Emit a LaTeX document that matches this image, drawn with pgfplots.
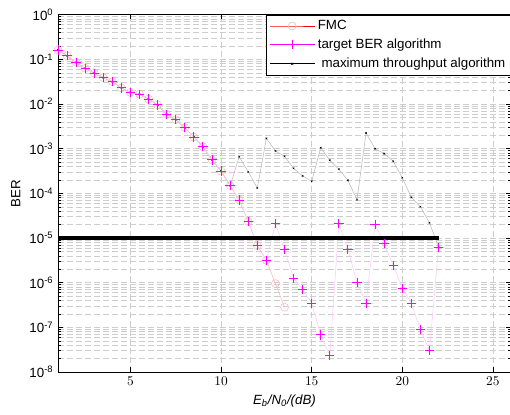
\documentclass[border=0pt]{standalone}
\usepackage{fontspec}
\setmainfont{Liberation Sans}
\usepackage{pgfplots}
\pgfplotsset{compat=1.18}

\definecolor{fmcpale}{RGB}{250,185,185}
\definecolor{tgtpale}{RGB}{250,200,250}
\definecolor{thrpale}{RGB}{185,185,185}
\definecolor{gridgray}{RGB}{205,205,205}
\definecolor{mag}{RGB}{255,0,255}

\begin{document}
\begin{tikzpicture}
\useasboundingbox (-43.5pt,-31.5pt) rectangle (339pt,279pt);
\begin{axis}[
  at={(0pt,0pt)}, anchor=south west,
  scale only axis, width=339.75pt, height=268pt,
  xmin=1, xmax=26, ymin=1e-8, ymax=1, ymode=log,
  xtick={5,10,15,20,25},
  ytick={1e-8,1e-7,1e-6,1e-5,1e-4,1e-3,1e-2,1e-1,1},
  yticklabels={10\textsuperscript{-8},10\textsuperscript{-7},10\textsuperscript{-6},10\textsuperscript{-5},10\textsuperscript{-4},10\textsuperscript{-3},10\textsuperscript{-2},10\textsuperscript{-1},10\textsuperscript{0}},
  minor ytick={2e-8,3e-8,4e-8,5e-8,6e-8,7e-8,8e-8,9e-8,
               2e-7,3e-7,4e-7,5e-7,6e-7,7e-7,8e-7,9e-7,
               2e-6,3e-6,4e-6,5e-6,6e-6,7e-6,8e-6,9e-6,
               2e-5,3e-5,4e-5,5e-5,6e-5,7e-5,8e-5,9e-5,
               2e-4,3e-4,4e-4,5e-4,6e-4,7e-4,8e-4,9e-4,
               2e-3,3e-3,4e-3,5e-3,6e-3,7e-3,8e-3,9e-3,
               2e-2,3e-2,4e-2,5e-2,6e-2,7e-2,8e-2,9e-2,
               2e-1,3e-1,4e-1,5e-1,6e-1,7e-1,8e-1,9e-1},
  xmajorgrids, ymajorgrids, yminorgrids,
  major grid style={gridgray, dash pattern=on 4.5pt off 2.25pt},
  minor grid style={gridgray, dash pattern=on 4.5pt off 2.25pt},
  tick align=inside,
  major tick length=3.5pt, minor tick length=2pt,
  every tick/.style={black, line width=0.4pt},
  axis line style={line width=0.5pt},
  tick label style={font=\fontsize{10}{12}\selectfont},
  label style={font=\fontsize{10}{12}\selectfont},
  xlabel={\textit{E\textsubscript{b}/N\textsubscript{0}/(dB)}},
  ylabel={BER},
  legend style={at={(rel axis cs:1,1)}, anchor=north east, draw=black, fill=white,
    font=\fontsize{10}{12}\selectfont, cells={anchor=west}, row sep=1.5pt, inner sep=2pt,
    line width=0.5pt},
  legend image code/.code={
    \draw[mark repeat=2,mark phase=2,#1] plot coordinates {(0pt,0pt) (17pt,0pt) (34pt,0pt)};
  },
]
\addlegendimage{red, line width=0.5pt, mark=o, mark size=3pt, mark options={draw=fmcpale}}
\addlegendimage{mag, line width=0.5pt, mark=+, mark size=3.5pt}
\addlegendimage{black, line width=0.5pt, mark=x, mark size=1pt}

% FMC
\addplot[fmcpale, line width=0.4pt, mark=o, mark size=3pt, mark options={draw=fmcpale}, forget plot] coordinates {
(1,1.62e-1) (1.5,1.20e-1) (2,8.51e-2) (2.5,6.31e-2) (3,4.90e-2) (3.5,3.89e-2)
(4,3.16e-2) (4.5,2.29e-2) (5,1.82e-2) (5.5,1.66e-2) (6,1.29e-2) (6.5,9.55e-3)
(7,5.89e-3) (7.5,4.47e-3) (8,2.95e-3) (8.5,1.82e-3) (9,1.10e-3) (9.5,5.62e-4)
(10,3.16e-4) (10.5,1.48e-4) (11,7.08e-5) (11.5,2.34e-5) (12,6.76e-6) (12.5,3.16e-6)
(13,9.55e-7) (13.5,2.82e-7)
};
% maximum throughput algorithm (line only, marks drawn later)
\addplot[thrpale, line width=0.4pt, mark=x, mark size=0.8pt, mark options={draw=black, line width=0.35pt}, forget plot] coordinates {
(1,1.62e-1) (1.5,1.20e-1) (2,8.51e-2) (2.5,6.31e-2) (3,4.90e-2) (3.5,3.89e-2)
(4,3.16e-2) (4.5,2.29e-2) (5,1.82e-2) (5.5,1.66e-2) (6,1.29e-2) (6.5,9.55e-3)
(7,5.89e-3) (7.5,4.47e-3) (8,2.95e-3) (8.5,1.82e-3) (9,1.10e-3) (9.5,5.62e-4)
(10,3.16e-4) (10.5,1.48e-4) (11,6.61e-4) (11.5,3.02e-4) (12,1.32e-4) (12.5,1.70e-3)
(13,8.91e-4) (13.5,6.76e-4) (14,3.63e-4) (14.5,2.45e-4) (15,1.86e-4) (15.5,1.05e-3)
(16,5.50e-4) (16.5,3.47e-4) (17,1.95e-4) (17.5,7.24e-5) (18,2.24e-3) (18.5,1.00e-3)
(19,7.76e-4) (19.5,5.25e-4) (20,2.24e-4) (20.5,8.13e-5) (21,5.01e-5) (21.5,2.19e-5)
(22,6.31e-6)
};
% target BER algorithm
\addplot[tgtpale, line width=0.4pt, mark=+, mark size=3.5pt, mark options={mag, line width=0.7pt}, forget plot] coordinates {
(1,1.62e-1) (1.5,1.20e-1) (2,8.51e-2) (2.5,6.31e-2) (3,4.90e-2) (3.5,3.89e-2)
(4,3.16e-2) (4.5,2.29e-2) (5,1.82e-2) (5.5,1.66e-2) (6,1.29e-2) (6.5,9.55e-3)
(7,5.89e-3) (7.5,4.47e-3) (8,2.95e-3) (8.5,1.82e-3) (9,1.10e-3) (9.5,5.62e-4)
(10,3.16e-4) (10.5,1.48e-4) (11,7.08e-5) (11.5,2.34e-5) (12,6.76e-6) (12.5,3.16e-6)
(13,2.09e-5) (13.5,5.50e-6) (14,1.26e-6) (14.5,6.92e-7) (15,3.47e-7) (15.5,6.76e-8)
(16,2.34e-8) (16.5,2.09e-5) (17,5.50e-6) (17.5,1.00e-6) (18,3.47e-7) (18.5,2.00e-5)
(19,7.41e-6) (19.5,2.45e-6) (20,7.41e-7) (20.5,3.47e-7) (21,8.91e-8) (21.5,3.02e-8)
(22,6.03e-6)
};
% target line
\addplot[black, line width=3.4pt, forget plot] coordinates {(1,1e-5) (22,1e-5)};

\legend{FMC, target BER algorithm, \ maximum throughput algorithm}
\end{axis}
\end{tikzpicture}
\end{document}
